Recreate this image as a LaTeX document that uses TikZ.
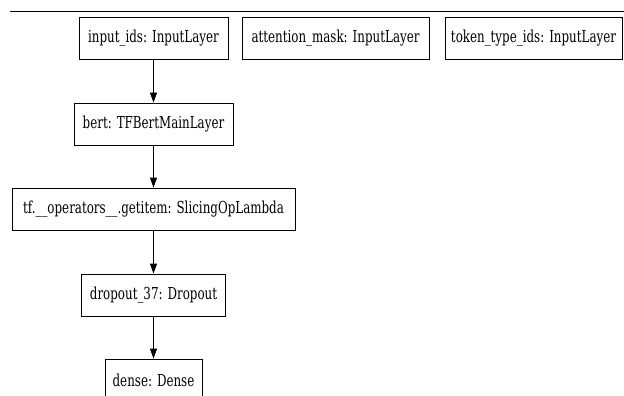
\documentclass[tikz,border=0pt]{standalone}
\usepackage{fontspec}
\setmainfont[FakeStretch=0.8]{DejaVu Serif Condensed}
\usetikzlibrary{arrows.meta}

\tikzset{
    layer/.style={draw, line width=0.9pt, inner sep=0pt, minimum height=42pt, font=\fontsize{16.5}{18}\selectfont},
    flow/.style={-{Triangle[length=10pt,width=7pt]}, line width=0.9pt}
}

\begin{document}
\begin{tikzpicture}[x=1pt, y=-1pt]
                \clip (0,0) rectangle (624,396);
                \draw[line width=0.9pt] (10,11) -- (624,11);

                \node[layer, minimum width=149pt] (ids) at (153.5,38) {input\_ids: InputLayer};
                \node[layer, minimum width=187pt] (mask) at (335.5,38) {attention\_mask: InputLayer};
                \node[layer, minimum width=177pt] (types) at (533.5,38) {token\_type\_ids: InputLayer};
                \node[layer, minimum width=159pt] (bert) at (153.5,124) {bert: TFBertMainLayer};
                \node[layer, minimum width=283pt] (slice) at (153.5,209) {tf.\_\_operators\_\_.getitem: SlicingOpLambda};
                \node[layer, minimum width=144pt] (drop) at (153.5,295) {dropout\_37: Dropout};
                \node[layer, minimum width=97pt] (dense) at (153.5,380) {dense: Dense};

                \draw[flow] (ids) -- (bert);
                \draw[flow] (bert) -- (slice);
                \draw[flow] (slice) -- (drop);
                \draw[flow] (drop) -- (dense);
            \end{tikzpicture}
\end{document}
